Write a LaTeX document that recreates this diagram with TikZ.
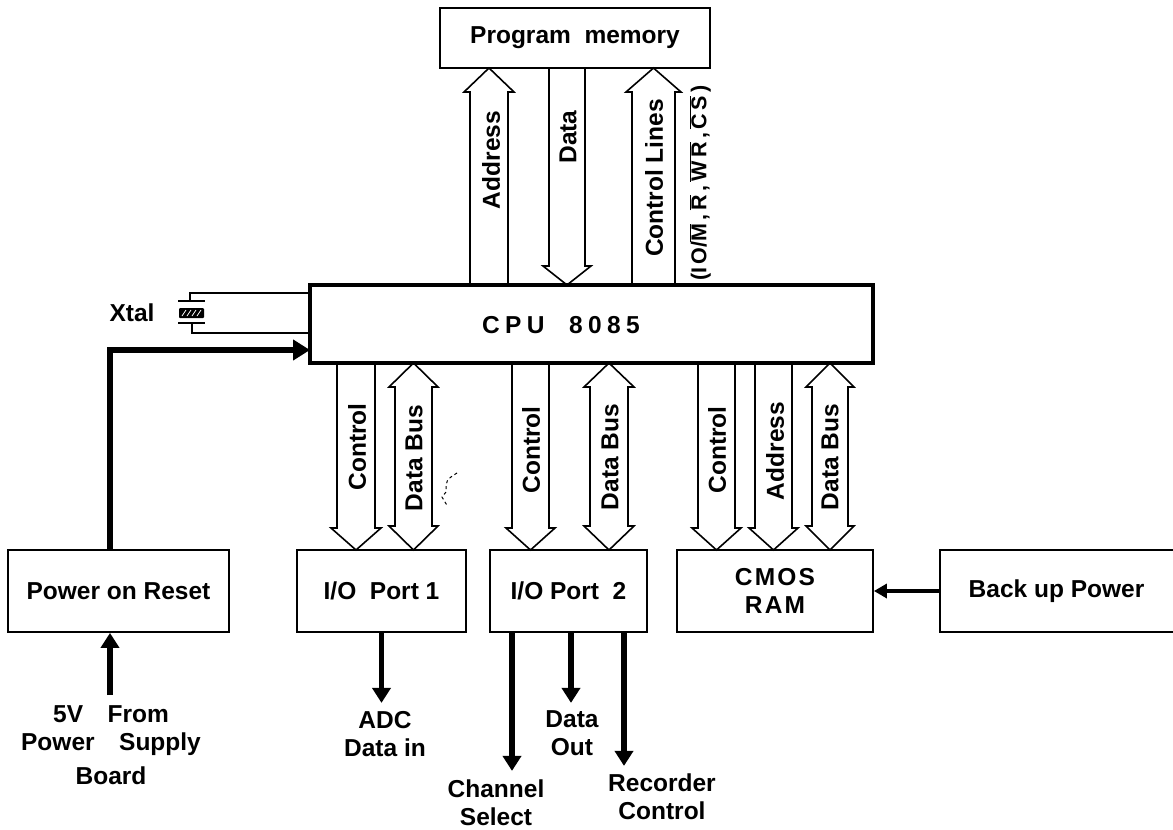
\documentclass[tikz,border=0pt]{standalone}
\usepackage{fontspec}
\setmainfont{Liberation Sans}
\usetikzlibrary{arrows.meta}
\newcommand\lbl{\fontsize{24.5pt}{28pt}\selectfont\bfseries}
\newcommand\ovl[1]{$\overline{\hbox{#1}}$}
\newcommand\blkdown[5]{\draw[blk] (#1,#3) -- (#1,#4-#5) -- (#1-6,#4-#5) -- ({(#1+#2)/2},#4) -- (#2+6,#4-#5) -- (#2,#4-#5) -- (#2,#3);}
\newcommand\blkup[5]{\draw[blk] (#1,#3) -- (#1,#4+#5) -- (#1-6,#4+#5) -- ({(#1+#2)/2},#4) -- (#2+6,#4+#5) -- (#2,#4+#5) -- (#2,#3);}
\newcommand\blkboth[5]{\draw[blk] (#1,#3+#5) -- (#1,#4-#5) -- (#1-6,#4-#5) -- ({(#1+#2)/2},#4) -- (#2+6,#4-#5) -- (#2,#4-#5) -- (#2,#3+#5) -- (#2+6,#3+#5) -- ({(#1+#2)/2},#3) -- (#1-6,#3+#5) -- cycle;}
\tikzset{
  box/.style={draw, line width=1.8pt, minimum height=82pt, inner sep=0pt, font=\lbl, align=center},
  blk/.style={draw, line width=1.6pt, line join=miter},
  sig/.style={line width=5.5pt, -{Triangle[length=15pt,width=18pt]}},
  lbl/.style={font=\lbl, align=center, inner sep=0pt},
  vlbl/.style={rotate=90, font=\lbl, inner sep=0pt},
  xwire/.style={line width=1.5pt},
}
\begin{document}
\begin{tikzpicture}[x=1pt,y=-1pt]
\useasboundingbox (0,0) rectangle (1173,830);
% boxes
\node[box, minimum width=270pt, minimum height=60pt] (pm) at (575,38) {Program\ \ memory};
\node[draw, line width=4pt, minimum width=563pt, minimum height=78pt, inner sep=0pt] (cpu) at (591.5,324) {};
\node[lbl] (cputxt) at (561,325) {\addfontfeature{LetterSpace=22}CPU\quad 8085};
\node[box, minimum width=221pt] (por) at (118.5,591) {Power\ on\ Reset};
\node[box, minimum width=169pt] (p1) at (381.5,591) {I/O\ \ Port\ 1};
\node[box, minimum width=157pt] (p2) at (568.5,591) {I/O\ Port\ \ 2};
\node[box, minimum width=196pt] (ram) at (775,591) {\addfontfeature{LetterSpace=9}CMOS\\\addfontfeature{LetterSpace=9}RAM};
\node[lbl, minimum width=233pt, minimum height=82pt] (bup) at (1056.5,591) {Back\ up\ Power};
\draw[line width=1.8pt] (bup.north east) -- (bup.north west) -- (bup.south west) -- (bup.south east);
% top buses
\blkup{470}{508}{285}{68}{24}
\blkdown{549}{585}{68}{285}{19}
\blkup{632}{675}{285}{68}{24}
\node[vlbl] (lad) at (491,160) {Address};
\node[vlbl] (ldat) at (568,137) {Data};
\node[vlbl] (lctl) at (654,178) {Control Lines};
\node[vlbl, font=\fontsize{21.5pt}{24pt}\selectfont\bfseries] (lsig) at (700,183) {(I\,O/\ovl{M}\,,\,\ovl{R}\,,\,\ovl{W\,R}\,,\,\ovl{C\,S}\,)};
% lower buses
\blkdown{337}{375}{363}{550}{22}
\blkboth{395}{432}{363}{550}{24}
\blkdown{512}{549}{363}{550}{22}
\blkboth{590}{628}{363}{550}{24}
\blkdown{698}{735}{363}{550}{22}
\blkdown{755}{792}{363}{550}{22}
\blkboth{812}{848}{363}{550}{24}
\node[vlbl] (l1) at (357,447) {Control};
\node[vlbl] (l2) at (414,458) {Data Bus};
\node[vlbl] (l3) at (531,450) {Control};
\node[vlbl] (l4) at (610,457) {Data Bus};
\node[vlbl] (l5) at (717,450) {Control};
\node[vlbl] (l6) at (775,451) {Address};
\node[vlbl] (l7) at (830,457) {Data Bus};
\draw[line width=1pt, dashed] (457,473) .. controls (446,480) .. (446,492) -- (442,497) -- (448,507);
% crystal
\node[lbl] (xtal) at (132,313) {Xtal};
\draw[xwire] (310,293) -- (190,293) -- (190,301);
\draw[xwire] (178,301) -- (205,301);
\fill[rounded corners=1pt] (179,308) rectangle (204,318);
\draw[white, line width=0.8pt] (182,316) -- (186,310) (187,316) -- (191,310) (192,316) -- (196,310) (197,316) -- (201,310);
\draw[xwire] (178,323) -- (205,323);
\draw[xwire] (192,323) -- (192,333) -- (310,333);
% power on reset
\coordinate (cpuin) at (310,350);
\draw[sig, -{Triangle[length=17pt,width=20pt]}] ([xshift=-8.5pt]por.north) |- (cpuin);
\coordinate (v5) at (110,695);
\draw[sig] (v5) -- (v5 |- por.south);
\node[lbl] (src) at (111,745) {5V\quad From\\Power\quad Supply\\[6pt]Board};
% port outputs
\draw[sig] (p1.south) -- ++(0,70);
\node[lbl] (adc) at (385,734) {ADC\\Data\ in};
\draw[sig] ([xshift=-56.5pt]p2.south) -- ++(0,138);
\draw[sig] ([xshift=2.5pt]p2.south) -- ++(0,70);
\draw[sig] ([xshift=55.5pt]p2.south) -- ++(0,133);
\node[lbl] (chs) at (496,803) {Channel\\Select};
\node[lbl] (dout) at (572,733) {Data\\Out};
\node[lbl] (rec) at (662,797) {Recorder\\Control};
% backup
\draw[line width=3.5pt, -{Triangle[length=13pt,width=14pt]}] (bup.west) -- (ram.east);
\end{tikzpicture}
\end{document}
